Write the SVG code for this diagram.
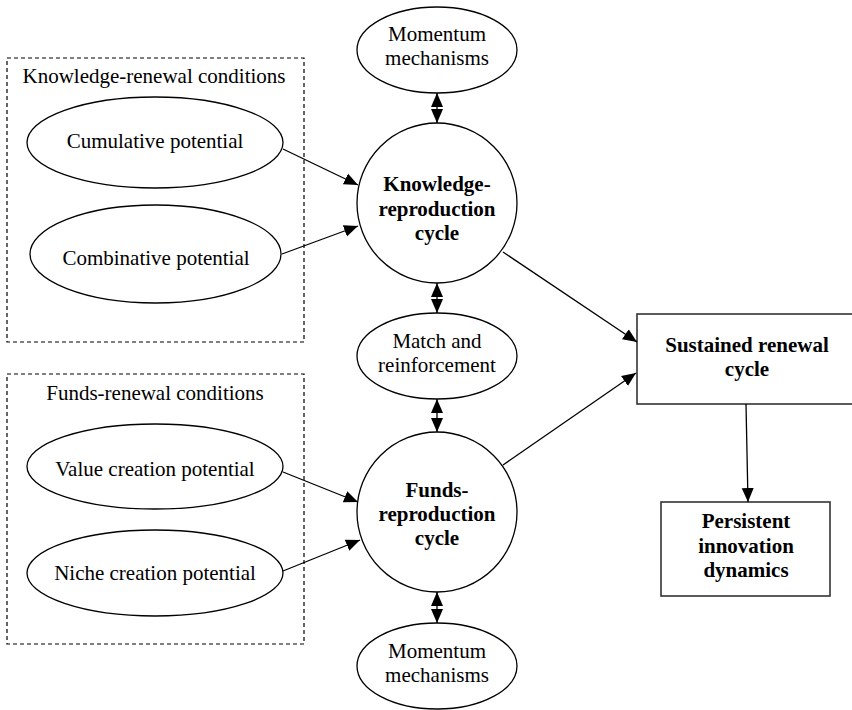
<svg xmlns="http://www.w3.org/2000/svg" width="852" height="710" viewBox="0 0 852 710">
<defs>
<style>
.shape{fill:#fff;stroke:#000;stroke-width:1.3}
.box{fill:#fff;stroke:#333;stroke-width:1.6}
.group{fill:none;stroke:#000;stroke-width:1.2;stroke-dasharray:4 3}
.t{font-family:"Liberation Serif","Times New Roman",serif;font-size:21px;fill:#000;text-anchor:middle}
.b{font-weight:bold}
.c{fill:none;stroke:#000;stroke-width:1.3}
.dbl{marker-start:url(#ah);marker-end:url(#ah)}
.one{marker-end:url(#ah)}
</style>
<marker id="ah" markerUnits="userSpaceOnUse" markerWidth="14" markerHeight="14" viewBox="0 0 14 12" refX="14" refY="6" orient="auto-start-reverse">
<path d="M0,0 L14,6 L0,12 z" fill="#000"/>
</marker>
</defs>

<g id="knowledge-renewal-conditions">
<rect class="group" x="7" y="58" width="297" height="284"/>
<text class="t" x="154" y="83">Knowledge-renewal conditions</text>
</g>
<g id="funds-renewal-conditions">
<rect class="group" x="7" y="374" width="297" height="270"/>
<text class="t" x="155" y="400">Funds-renewal conditions</text>
</g>

<g id="cumulative">
<ellipse class="shape" cx="155" cy="142.5" rx="128" ry="45.5"/>
<text class="t" x="155" y="148">Cumulative potential</text>
</g>
<g id="combinative">
<ellipse class="shape" cx="155.5" cy="254" rx="125.5" ry="49"/>
<text class="t" x="156" y="265">Combinative potential</text>
</g>
<g id="value-creation">
<ellipse class="shape" cx="155" cy="466.5" rx="128" ry="42.5"/>
<text class="t" x="155" y="476">Value creation potential</text>
</g>
<g id="niche-creation">
<ellipse class="shape" cx="155" cy="573" rx="128" ry="43"/>
<text class="t" x="155" y="580">Niche creation potential</text>
</g>

<g id="momentum-top">
<ellipse class="shape" cx="437" cy="50" rx="80" ry="43"/>
<text class="t" x="437" y="41">Momentum</text>
<text class="t" x="437" y="65">mechanisms</text>
</g>
<g id="knowledge-cycle">
<circle class="shape" cx="437" cy="203" r="80"/>
<text class="t b" x="437" y="191">Knowledge-</text>
<text class="t b" x="437" y="216">reproduction</text>
<text class="t b" x="437" y="240">cycle</text>
</g>
<g id="match">
<ellipse class="shape" cx="437" cy="356" rx="80" ry="43"/>
<text class="t" x="437" y="348">Match and</text>
<text class="t" x="437" y="372">reinforcement</text>
</g>
<g id="funds-cycle">
<circle class="shape" cx="437" cy="512" r="80"/>
<text class="t b" x="437" y="497">Funds-</text>
<text class="t b" x="437" y="521">reproduction</text>
<text class="t b" x="437" y="545">cycle</text>
</g>
<g id="momentum-bottom">
<ellipse class="shape" cx="437" cy="666" rx="80" ry="43"/>
<text class="t" x="437" y="658">Momentum</text>
<text class="t" x="437" y="682">mechanisms</text>
</g>

<g id="sustained">
<rect class="box" x="637" y="314" width="230" height="90"/>
<text class="t b" x="747" y="352">Sustained renewal</text>
<text class="t b" x="747" y="376">cycle</text>
</g>
<g id="persistent">
<rect class="box" x="661" y="502" width="169" height="94"/>
<text class="t b" x="746" y="528">Persistent</text>
<text class="t b" x="746" y="553">innovation</text>
<text class="t b" x="746" y="577">dynamics</text>
</g>

<g id="connectors">
<line class="c one" x1="283" y1="149" x2="358" y2="185"/>
<line class="c one" x1="282" y1="254" x2="358" y2="226"/>
<line class="c one" x1="283" y1="472" x2="358" y2="502"/>
<line class="c one" x1="283" y1="571" x2="360" y2="540"/>
<line class="c dbl" x1="437" y1="93" x2="437" y2="123"/>
<line class="c dbl" x1="437" y1="283" x2="437" y2="313"/>
<line class="c dbl" x1="437" y1="399" x2="437" y2="432"/>
<line class="c dbl" x1="437" y1="592" x2="437" y2="623"/>
<line class="c one" x1="503" y1="252" x2="637" y2="342"/>
<line class="c one" x1="503" y1="465" x2="636" y2="373"/>
<line class="c one" x1="746" y1="404" x2="748" y2="502"/>
</g>
</svg>
